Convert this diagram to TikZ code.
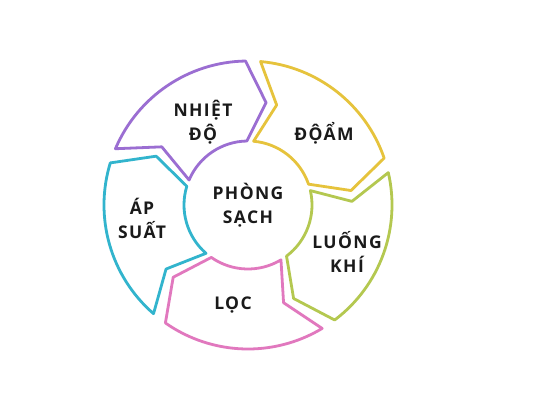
\documentclass[tikz,border=0pt]{standalone}
\usepackage{fontspec}
\setmainfont{Open Sans}
\newfontfamily\segfont[LetterSpace=8]{Open Sans}
\usetikzlibrary{calc}

\definecolor{nhietcol}{HTML}{9B6ED2}
\definecolor{doamcol}{HTML}{E6C33C}
\definecolor{luongcol}{HTML}{B4C850}
\definecolor{loccol}{HTML}{E178BE}
\definecolor{apsuatcol}{HTML}{32B4CD}
\definecolor{textcol}{HTML}{1A1A1A}

\begin{document}
\begin{tikzpicture}[
    x=1pt, y=1pt,
    segment/.style={
      line width=2.8pt, line join=round
    },
    segtext/.style={
      align=center, text=textcol,
      font=\segfont\bfseries\fontsize{17.5}{24}\selectfont
    }
  ]
    \fill[white] (0,0) rectangle (533,400);
    \useasboundingbox (0,0) rectangle (533,400);

    \coordinate (C) at (248,195);

    \begin{scope}[shift={(C)}]
      \foreach \c/\col in {124/nhietcol, 52/doamcol, -20/luongcol,
                           -92/loccol, -164/apsuatcol}{
        \draw[segment, draw=\col]
          (\c+33:144pt) arc[start angle=\c+33, end angle=\c-33, radius=144pt]
          -- (\c-44:104pt) -- (\c-33:64pt)
          arc[start angle=\c-33, end angle=\c+33, radius=64pt]
          -- (\c+22:104pt) -- cycle;
      }
    \end{scope}

    \node[segtext] (phong)  at (C)         {PHÒNG\\SẠCH};
    \node[segtext] (nhiet)  at (203,278)   {NHIỆT\\ĐỘ};
    \node[segtext] (doam)   at (324,267)   {ĐỘẨM};
    \node[segtext] (luong)  at (347,148)   {LUỐNG\\KHÍ};
    \node[segtext] (loc)    at (233,95)    {LỌC};
    \node[segtext] (apsuat) at (142,182)   {ÁP\\SUẤT};
  \end{tikzpicture}
\end{document}
